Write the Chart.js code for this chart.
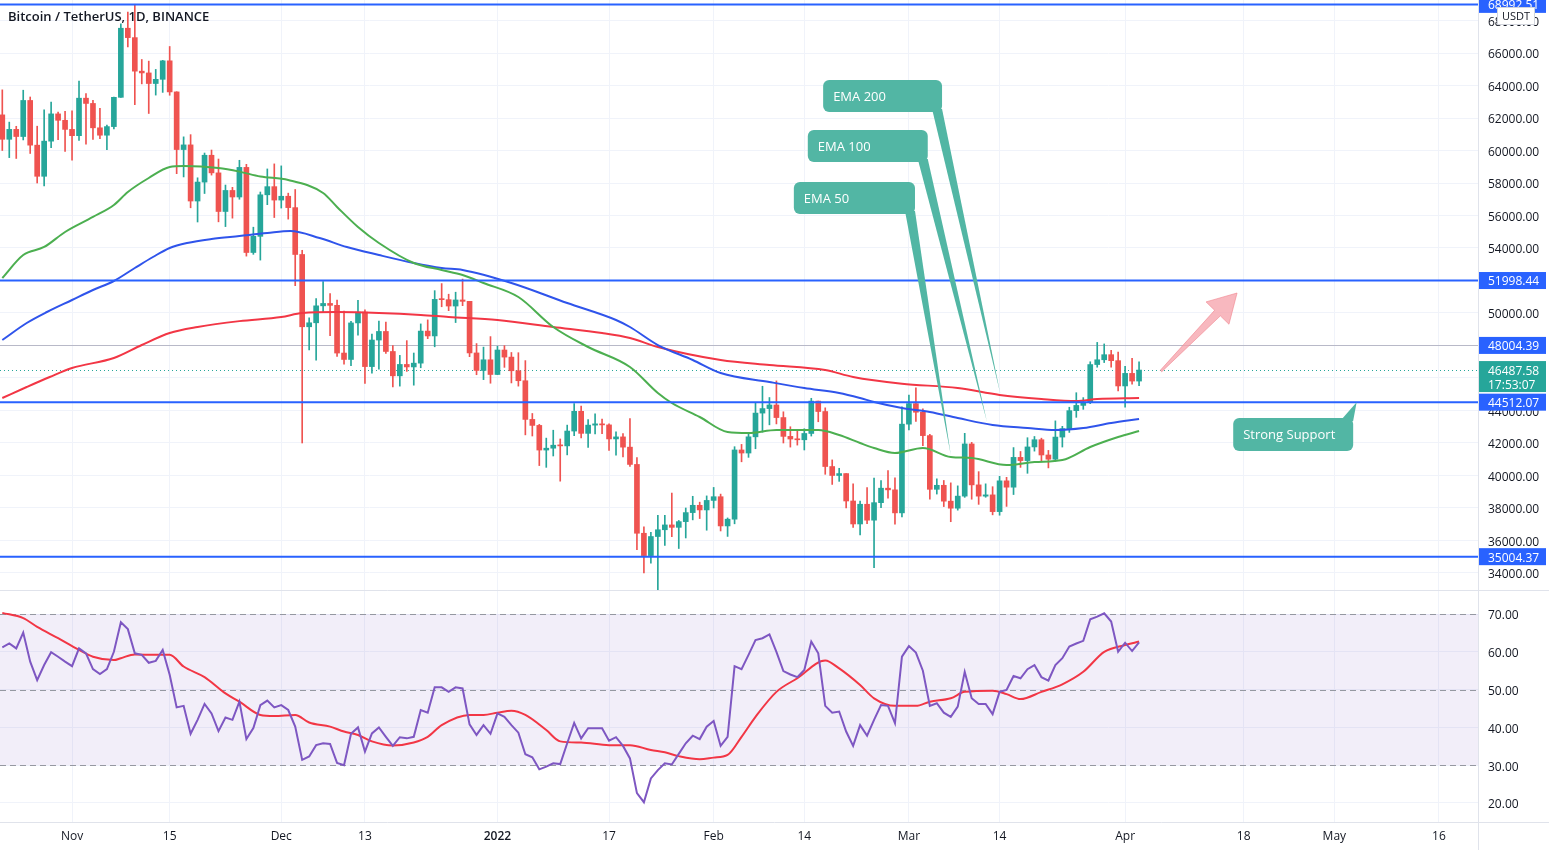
<!DOCTYPE html>
<html>
<head>
<meta charset="utf-8">
<script src="https://cdn.jsdelivr.net/npm/chart.js@4.4.1/dist/chart.umd.min.js"></script>
<style>
  html, body { margin: 0; padding: 0; background: #fff; overflow: hidden; }
  #wrap { position: relative; width: 1549px; height: 850px; }
  #price { position: absolute; left: 0; top: 0; }
  #rsi { position: absolute; left: 0; top: 590px; }
</style>
</head>
<body>
<div id="wrap">
  <canvas id="price" width="1549" height="590"></canvas>
  <canvas id="rsi" width="1549" height="260"></canvas>
</div>
<script>
const FONT = "'Open Sans', 'Noto Sans', sans-serif";
const UP = '#26a69a', DOWN = '#ef5350';

// x = day index, 0 = 22 Oct 2021
const tickIdx = [10, 24, 40, 52, 71, 87, 102, 115, 130, 143, 161, 178, 191, 206];
const tickNames = ['Nov', '15', 'Dec', '13', '2022', '17', 'Feb', '14', 'Mar', '14', 'Apr', '18', 'May', '16'];
const priceTicks = [34000, 36000, 38000, 40000, 42000, 44000, 46000, 48000, 50000, 52000, 54000, 56000, 58000, 60000, 62000, 64000, 66000, 68000];
const rsiTicks = [20, 30, 40, 50, 60, 70];

const opens = [
  62193,60690,61300,60860,63080,60329,58413,60575,62253,61859,
  61299,60911,63220,62896,61396,60941,61471,63273,67525,66947,
  64883,64774,64122,64380,65519,63606,60059,60345,56891,58057,
  59708,58623,56247,57541,57139,58960,53723,54717,57274,57776,
  56950,57185,56485,53601,49152,49397,50441,50588,50471,47535,
  47140,49389,50053,46702,48336,48864,47632,46133,46834,46681,
  46914,48887,48588,50838,50820,50428,50802,50718,47542,46464,47120,
  46216,47722,47286,46446,45832,43451,43082,41566,41680,41864,
  41822,42735,43949,42592,43099,43177,43114,42250,42375,41744,
  40680,36445,35071,36244,36660,36958,36809,37160,37716,38166,37881,
  38466,38694,36896,37311,41571,41382,42380,43840,44118,44339,
  43565,42407,42244,42197,42586,44578,43937,40552,40000,40118,
  38431,37017,38230,37250,38328,39219,39116,37699,
  43160,44421,43892,42454,39149,39397,38420,37988,38730,41941,
  39422,38729,38807,37777,39671,39280,41114,40917,41757,42201,
  41262,41002,42364,42882,43991,44313,44511,46827,47122,47434,47067,
  45510,46283,45811
];
const highs = [
  63732,61747,61490,63710,63293,61496,62499,62980,62359,62405,
  62437,64270,63500,63086,62595,61560,63286,67789,68524,69000,
  65600,65500,64990,65550,66401,63617,60840,60976,58320,59845,
  60029,59475,57875,57735,59398,59150,55280,57445,58865,59176,
  59053,57375,57600,53859,49699,50891,51936,51200,50797,50125,
  49485,50777,50189,48700,49500,49436,47995,47392,48300,47537,
  49328,49576,51375,51810,51156,51280,52088,50718,48119,47900,48548,
  47954,47990,47570,47557,47070,43816,43145,42300,42786,42248,
  43100,44423,44279,43448,43800,43476,43179,42691,42579,43505,
  41100,36835,36499,37550,37545,38919,37234,38000,38720,38359,38744,
  39265,38855,37387,41772,41913,42656,44500,45492,44798,45821,
  43920,43000,42760,42876,44751,44578,44164,40959,40444,40119,
  39494,38429,39249,39843,39683,40300,39855,44225,
  44949,45400,44101,42527,39794,39693,39547,39362,42594,42039,
  40236,39486,39310,39947,39887,41718,41478,42325,42400,42296,
  41544,43361,43025,44200,45094,44792,46999,48190,48096,47700,47600,
  46720,47213,47000
];
const lows = [
  60000,59562,59510,60650,59817,58000,57820,60174,60673,59945,
  59405,60624,60382,60677,60721,60050,61322,63273,66382,62822,
  64100,62278,63410,63576,63400,58574,58373,56474,55600,57353,
  58486,55610,55317,55837,57000,53500,53610,53256,56666,55875,
  56458,55777,51680,42000,47727,47100,50039,48600,47320,46852,
  46751,48638,45672,46290,46547,47511,45456,45500,46406,45558,
  46630,48421,47920,50384,50142,49412,50449,47313,46201,45900,45678,
  46208,46654,45696,45500,42500,42430,40610,40501,41200,39650,
  41268,42447,42311,41725,42555,42581,41540,41250,41138,40553,
  35440,34008,34601,32917,35701,36234,35507,36155,37268,37351,36632,
  38000,36586,36250,37026,40843,41116,41645,42666,43117,43174,
  42000,41748,41870,41570,42428,43307,40073,39450,39639,38000,
  36800,36350,37036,34322,38014,38600,37000,37450,
  42809,43334,41832,38550,38857,38088,37155,37867,38656,38539,
  38223,38660,37578,37555,38098,38828,40500,40135,41499,40911,
  40467,40875,41751,42650,43579,44071,44422,46663,46950,46665,45200,
  44200,45620,45530
];
const closes = [
  60690,61300,60860,63080,60329,58413,60575,62253,61859,61299,
  60911,63220,62896,61396,60941,61471,63273,67525,66947,64883,
  64774,64122,64380,65519,63606,60059,60345,56891,58057,59708,
  58623,56247,57541,57139,58960,53723,54717,57274,57776,56950,
  57185,56485,53601,49152,49397,50441,50588,50471,47535,47140,
  49389,50053,46702,48336,48864,47632,46133,46834,46681,46914,
  48887,48588,50838,50820,50428,50802,50718,47542,46464,47120,46216,
  47722,47286,46446,45832,43451,43082,41566,41680,41864,41822,
  42735,43949,42592,43099,43177,43114,42250,42375,41744,40680,
  36445,35071,36244,36660,36958,36809,37160,37716,38166,37881,38466,
  38694,36896,37311,41571,41382,42380,43840,44118,44339,43565,
  42407,42244,42197,42586,44578,43937,40552,40000,40118,38431,
  37017,38230,37250,38328,39219,39116,37699,43160,
  44421,43892,42454,39149,39397,38420,37988,38730,41941,39422,
  38729,38807,37777,39671,39280,41114,40917,41757,42201,41262,
  41002,42364,42882,43991,44313,44511,46827,47122,47434,47067,45510,
  46283,45811,46488
];

// moving averages: [day index, price]
const ema50 = [[0,52153],[3,53569],[6,54062],[9,54985],[13,55908],[16,56646],[18,57446],[21,58308],[24,58985],[26,59046],[31,58923],[34,58700],[37,58400],[41,58184],[46,57384],[48,56523],[51,55292],[54,54308],[59,53077],[63,52646],[66,52338],[69,51846],[74,50984],[79,49138],[84,47907],[90,46677],[94,45076],[96,44461],[100,43600],[104,42677],[107,42615],[111,42800],[117,42800],[120,42492],[123,42000],[125,41692],[128,41384],[132,41692],[136,41138],[139,41077],[144,40646],[148,40830],[152,40954],[156,41753],[160,42369],[163,42738]];
const ema100 = [[0,48338],[3.5,49385],[6.4,50062],[10,50800],[13,51415],[16,51969],[19,52769],[21.6,53446],[24,54000],[26.5,54308],[30,54554],[34,54738],[38,54923],[41.3,55046],[45.5,54615],[49.4,54062],[54,53569],[59,53077],[63,52769],[66,52646],[73,51846],[81,50615],[88,49569],[90,49138],[94,48030],[99,47107],[103,46308],[110,45754],[115,45384],[120,45077],[123,44769],[125,44523],[129,44154],[133,43908],[137,43538],[142,43108],[147,42923],[151,42800],[155,42923],[159,43231],[163,43477]];
const ema200 = [[0,44769],[3.5,45446],[6.8,46062],[10,46615],[16,47231],[20,48031],[24,48769],[28,49138],[34,49500],[40,49754],[43,50000],[48,50061],[54,50000],[60,49877],[64,49754],[71,49569],[79,49138],[86,48769],[90,48461],[94,47907],[103,47107],[110,46800],[118,46492],[122,46061],[129,45650],[137,45384],[143,44954],[149,44708],[154,44585],[157,44708],[163,44769]];

const rsi = [
  61.2,62.2,60.9,65.1,57.4,52.5,56.5,59.9,58.7,57.4,
  56.2,60.9,59.6,55.4,54.1,55.4,60.0,67.8,66.0,59.6,
  59.2,57.1,57.6,60.5,53.9,45.3,45.7,38.3,42.0,46.2,
  43.7,39.0,42.6,42.0,46.8,36.9,39.8,45.9,47.1,45.3,
  45.9,44.6,40.2,31.4,32.3,35.3,35.8,35.6,30.6,30.0,
  38.3,40.0,33.6,38.4,40.0,37.5,35.1,37.4,37.1,37.5,
  44.6,43.9,50.6,50.6,49.4,50.6,50.3,40.8,38.0,40.6,38.3,
  43.7,42.8,40.6,38.6,32.9,32.1,28.9,29.6,30.5,30.3,
  35.8,41.2,37.1,39.8,39.8,39.8,36.5,37.4,35.1,31.8,
  22.6,20.2,26.5,28.7,30.5,30.2,33.0,35.8,37.8,36.9,40.2,
  41.7,35.1,37.5,56.2,55.4,59.2,63.1,63.6,64.6,60.0,
  54.9,54.0,53.3,55.2,62.7,59.6,45.7,43.9,44.2,38.9,
  35.1,40.6,37.8,42.0,45.9,45.7,41.1,58.7,
  61.5,59.8,55.0,45.7,46.4,43.9,42.8,45.5,54.7,47.7,
  46.2,46.2,43.5,49.4,49.9,53.6,53.0,55.4,56.5,53.3,
  52.4,56.5,58.3,61.4,62.2,62.9,68.6,69.3,70.2,68.0,60.0,
  62.4,60.2,62.5
];
const rsiMa = [[0,70.3],[3,68.9],[5,66.6],[8,63.6],[11,60.5],[13,58.7],[16,57.8],[17,58.3],[19,59.3],[22,59.2],[24,59.2],[26,56.1],[29,53.3],[32,49.0],[34,46.8],[37,43.3],[39,43.0],[42,43.3],[44,41.3],[47,40.2],[49,38.9],[51,38.0],[53,36.3],[56,35.2],[59,36.0],[61,37.5],[63,40.6],[67,43.3],[69,43.3],[71,43.9],[73,44.4],[75,43.3],[78,39.3],[80,36.3],[83,36.0],[87,35.3],[90,35.3],[93,34.0],[95,33.4],[97,32.4],[100,31.6],[102,32.0],[104,32.7],[106,37.5],[108,42.8],[111,49.4],[114,53.0],[118,57.7],[120,55.6],[123,51.2],[125,47.7],[128,45.7],[131,45.7],[133,46.8],[136,47.7],[138,49.4],[142,49.7],[144,48.8],[146,47.5],[149,49.4],[152,51.4],[155,54.7],[158,60.0],[161,61.8],[163,62.7]];

const levels = [68992.51, 51998.44, 44512.07, 35004.37];
const midLevel = 48004.39;
const lastPrice = 46487.58;
const countdown = '17:53:07';

const X_MIN = -0.33, X_MAX = 211.6;
const idx = opens.map((_, i) => i);
const candleColor = ctx => closes[ctx.dataIndex] >= opens[ctx.dataIndex] ? UP : DOWN;
const pts = arr => arr.map(([x, y]) => ({ x, y }));

function xAxis(showLabels, height) {
  return {
    type: 'linear', min: X_MIN, max: X_MAX, offset: false,
    afterBuildTicks: s => { s.ticks = tickIdx.map(v => ({ value: v })); },
    afterFit: s => { s.height = height; s.paddingLeft = 0; s.paddingRight = 0; },
    ticks: {
      display: showLabels, autoSkip: false, maxRotation: 0, padding: 7, color: '#131722',
      font: ctx => ({ family: FONT, size: 12, weight: ctx.tick && ctx.tick.value === 71 ? '600' : 'normal' }),
      callback: (v, i) => tickNames[i]
    },
    grid: { color: '#f0f3fa', drawTicks: false, offset: false },
    border: { display: false }
  };
}

function yAxis(min, max, ticks) {
  return {
    type: 'linear', position: 'right', min, max, beginAtZero: false,
    afterBuildTicks: s => { s.ticks = ticks.map(v => ({ value: v })); },
    afterFit: s => { s.width = 71; s.paddingTop = 0; s.paddingBottom = 0; },
    ticks: { color: '#131722', font: { family: FONT, size: 12 }, padding: 10, labelOffset: 2, callback: v => v.toFixed(2) },
    grid: { color: '#f0f3fa', drawTicks: false },
    border: { display: false }
  };
}

function roundBox(ctx, x, y, w, h, r) {
  ctx.beginPath();
  ctx.roundRect(x, y, w, h, r);
  ctx.fill();
}

const callouts = [
  { text: 'EMA 200', x0: 117.7, x1: 134.75, y0: 64338, y1: 62369, tip: [143.1, 45050], side: 'bottom' },
  { text: 'EMA 100', x0: 115.5, x1: 132.7, y0: 61261, y1: 59292, tip: [141.2, 43292], side: 'bottom' },
  { text: 'EMA 50', x0: 113.5, x1: 130.87, y0: 58062, y1: 56092, tip: [136.0, 41262], side: 'bottom' },
  { text: 'Strong Support', x0: 176.5, x1: 193.7, y0: 43538, y1: 41507, tip: [194.2, 44512], side: 'top' }
];

const priceDecor = {
  id: 'priceDecor',
  beforeDatasetsDraw(chart) {
    const { ctx, chartArea: a, scales: { y } } = chart;
    ctx.save();
    ctx.lineWidth = 1;
    ctx.strokeStyle = '#b8b9c8';
    let py = Math.round(y.getPixelForValue(midLevel)) + 0.5;
    ctx.beginPath(); ctx.moveTo(a.left, py); ctx.lineTo(a.right, py); ctx.stroke();
    ctx.strokeStyle = '#26a69a';
    ctx.setLineDash([1, 3]);
    py = Math.round(y.getPixelForValue(lastPrice)) + 0.5;
    ctx.beginPath(); ctx.moveTo(a.left, py); ctx.lineTo(a.right, py); ctx.stroke();
    ctx.restore();
  },
  afterDatasetsDraw(chart) {
    const { ctx, chartArea: a, scales: { x, y } } = chart;
    ctx.save();
    ctx.beginPath(); ctx.rect(a.left, a.top, a.right - a.left, a.bottom - a.top); ctx.clip();
    ctx.strokeStyle = '#2962ff';
    ctx.lineWidth = 2;
    levels.forEach(v => {
      const py = y.getPixelForValue(v);
      ctx.beginPath(); ctx.moveTo(a.left, py); ctx.lineTo(a.right, py); ctx.stroke();
    });

    // callouts
    callouts.forEach(c => {
      const l = x.getPixelForValue(c.x0), r = x.getPixelForValue(c.x1);
      const t = y.getPixelForValue(c.y0), b = y.getPixelForValue(c.y1);
      const tx = x.getPixelForValue(c.tip[0]), ty = y.getPixelForValue(c.tip[1]);
      ctx.fillStyle = '#52b6a4';
      ctx.beginPath();
      if (c.side === 'bottom') {
        ctx.moveTo(r - 10, b - 3); ctx.lineTo(r, b - 3);
      } else {
        ctx.moveTo(r - 13, t + 3); ctx.lineTo(r, t + 3);
      }
      ctx.lineTo(tx, ty);
      ctx.closePath();
      ctx.fill();
      roundBox(ctx, l, t, r - l, b - t, 6);
      ctx.fillStyle = '#ffffff';
      ctx.font = `13px ${FONT}`;
      ctx.textBaseline = 'middle';
      ctx.textAlign = 'left';
      ctx.fillText(c.text, l + 10, (t + b) / 2 + 1);
    });

    // pink arrow
    const T = [x.getPixelForValue(166.15), y.getPixelForValue(46430)];
    const P = [x.getPixelForValue(177.05), y.getPixelForValue(51230)];
    const dx = P[0] - T[0], dy = P[1] - T[1], len = Math.hypot(dx, dy);
    const ux = dx / len, uy = dy / len, nx = -uy, ny = ux;
    const B = [P[0] - ux * 28, P[1] - uy * 28];
    const pt = (p, k) => [p[0] + nx * k, p[1] + ny * k];
    const shape = [pt(T, 1), pt(B, 4), pt(B, 16), P, pt(B, -16), pt(B, -4), pt(T, -1)];
    ctx.beginPath();
    shape.forEach((p, i) => i ? ctx.lineTo(p[0], p[1]) : ctx.moveTo(p[0], p[1]));
    ctx.closePath();
    ctx.fillStyle = 'rgba(245,160,170,0.75)';
    ctx.fill();
    ctx.strokeStyle = 'rgba(240,130,140,0.6)';
    ctx.lineWidth = 1;
    ctx.stroke();
    ctx.restore();
  },
  afterDraw(chart) {
    const { ctx, chartArea: a, scales: { y } } = chart;
    ctx.save();
    // title
    ctx.fillStyle = '#131722';
    ctx.font = `600 13px ${FONT}`;
    ctx.textBaseline = 'middle';
    ctx.textAlign = 'left';
    ctx.fillText('Bitcoin / TetherUS, 1D, BINANCE', 8, 17);

    ctx.strokeStyle = '#e0e3eb';
    ctx.lineWidth = 1;
    ctx.beginPath(); ctx.moveTo(a.right + 0.5, 0); ctx.lineTo(a.right + 0.5, chart.height); ctx.stroke();
    ctx.font = `12px ${FONT}`;
    const bx = a.right + 1, bw = 67;
    // last price box
    const lp = y.getPixelForValue(lastPrice);
    ctx.fillStyle = '#26a69a';
    ctx.fillRect(bx, lp - 9, bw, 31);
    ctx.fillStyle = '#fff';
    ctx.fillText(lastPrice.toFixed(2), bx + 9, lp + 1.5);
    ctx.fillText(countdown, bx + 9, lp + 15.5);
    levels.concat([midLevel]).forEach(v => {
      const py = y.getPixelForValue(v);
      ctx.fillStyle = '#2962ff';
      ctx.fillRect(bx, py - 8.5, bw, 17);
      ctx.fillStyle = '#fff';
      ctx.fillText(v.toFixed(2), bx + 9, py + 1.5);
    });
    // currency tag
    ctx.fillStyle = '#fff';
    ctx.fillRect(a.right + 19, 7, 38, 18);
    ctx.strokeStyle = '#d1d4dc';
    ctx.strokeRect(a.right + 19.5, 7.5, 37, 17);
    ctx.fillStyle = '#131722';
    ctx.font = `11px ${FONT}`;
    ctx.textAlign = 'center';
    ctx.fillText('USDT', a.right + 38, 17);
    ctx.restore();
  }
};

const rsiDecor = {
  id: 'rsiDecor',
  beforeDatasetsDraw(chart) {
    const { ctx, chartArea: a, scales: { y } } = chart;
    ctx.save();
    const y70 = y.getPixelForValue(70), y30 = y.getPixelForValue(30);
    ctx.fillStyle = 'rgba(126,87,194,0.1)';
    ctx.fillRect(a.left, y70, a.right - a.left, y30 - y70);
    ctx.strokeStyle = '#9598a1';
    ctx.lineWidth = 1;
    ctx.setLineDash([6, 4]);
    [70, 50, 30].forEach(v => {
      const py = Math.round(y.getPixelForValue(v)) + 0.5;
      ctx.beginPath(); ctx.moveTo(a.left, py); ctx.lineTo(a.right, py); ctx.stroke();
    });
    ctx.restore();
  },
  afterDraw(chart) {
    const { ctx, chartArea: a } = chart;
    ctx.save();
    ctx.strokeStyle = '#e0e3eb';
    ctx.lineWidth = 1;
    ctx.beginPath();
    ctx.moveTo(0, 0.5); ctx.lineTo(chart.width, 0.5);
    ctx.moveTo(0, Math.round(a.bottom) + 0.5); ctx.lineTo(chart.width, Math.round(a.bottom) + 0.5);
    ctx.moveTo(a.right + 0.5, 0); ctx.lineTo(a.right + 0.5, chart.height);
    ctx.stroke();
    ctx.restore();
  }
};

new Chart(document.getElementById('price'), {
  type: 'bar',
  data: {
    datasets: [
      { type: 'line', data: pts(ema50), borderColor: '#4caf50', borderWidth: 2, pointRadius: 0, cubicInterpolationMode: 'monotone', order: 1 },
      { type: 'line', data: pts(ema100), borderColor: '#2f54eb', borderWidth: 2, pointRadius: 0, cubicInterpolationMode: 'monotone', order: 2 },
      { type: 'line', data: pts(ema200), borderColor: '#f23645', borderWidth: 2, pointRadius: 0, cubicInterpolationMode: 'monotone', order: 3 },
      { data: idx.map(i => ({ x: i, y: [opens[i], closes[i]] })), backgroundColor: candleColor, barThickness: 5, minBarLength: 1, grouped: false, borderWidth: 0, order: 4 },
      { data: idx.map(i => ({ x: i, y: [lows[i], highs[i]] })), backgroundColor: candleColor, barThickness: 1, grouped: false, borderWidth: 0, order: 5 }
    ]
  },
  options: {
    responsive: false, animation: false, events: [],
    layout: { padding: 0 },
    plugins: { legend: { display: false }, tooltip: { enabled: false } },
    scales: { x: xAxis(false, 0), y: yAxis(32953, 69262, priceTicks) }
  },
  plugins: [priceDecor]
});

new Chart(document.getElementById('rsi'), {
  type: 'line',
  data: {
    datasets: [
      { data: pts(rsiMa), borderColor: '#f23645', borderWidth: 2, pointRadius: 0, cubicInterpolationMode: 'monotone', order: 2 },
      { data: idx.map(i => ({ x: i, y: rsi[i] })), borderColor: '#7e57c2', borderWidth: 2, pointRadius: 0, tension: 0, order: 1 }
    ]
  },
  options: {
    responsive: false, animation: false, events: [],
    layout: { padding: 0 },
    plugins: { legend: { display: false }, tooltip: { enabled: false } },
    scales: { x: xAxis(true, 28), y: yAxis(14.97, 76.35, rsiTicks) }
  },
  plugins: [rsiDecor]
});
</script>
</body>
</html>
